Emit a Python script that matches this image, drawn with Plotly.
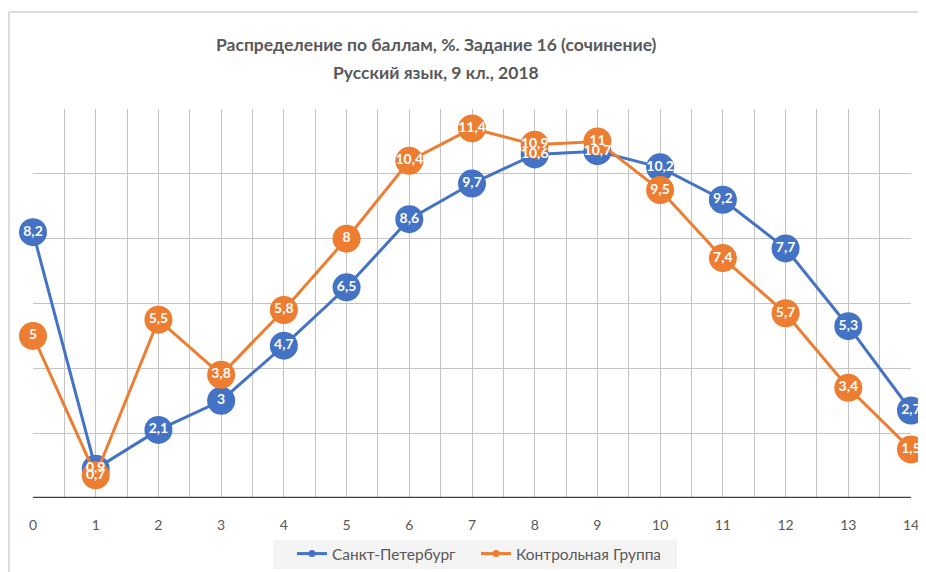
import plotly.graph_objects as go

scores = list(range(15))
spb = [8.2, 0.9, 2.1, 3, 4.7, 6.5, 8.6, 9.7, 10.6, 10.7, 10.2, 9.2, 7.7, 5.3, 2.7]
control = [5, 0.7, 5.5, 3.8, 5.8, 8, 10.4, 11.4, 10.9, 11, 9.5, 7.4, 5.7, 3.4, 1.5]
names = ["Санкт-Петербург", "Контрольная Группа"]
colors = ["#4472C4", "#ED7D31"]
title_lines = ["Распределение по баллам, %. Задание 16 (сочинение)", "Русский язык, 9 кл., 2018"]


def fmt(v):
    return f"{v:g}".replace(".", ",")


FONT = "Lato"
OFF = 8  # page offset of the figure (body margin)
W, H = 926 - OFF, 572 - OFF
# plot area in page pixels
PX0, PX1, PY0, PY1 = 33, 911, 109, 498
L, R, T, B = PX0 - OFF, W - (PX1 - OFF), PY0 - OFF, H - (PY1 - OFF)
pw, ph = W - L - R, H - T - B


def px(x):
    return (x - OFF - L) / pw


def py(y):
    return (H - B - (y - OFF)) / ph


fig = go.Figure()
for vals, name, col in zip([spb, control], names, colors):
    fig.add_trace(go.Scatter(
        x=scores, y=vals, name=name, mode="lines+markers", showlegend=False,
        line=dict(color=col, width=3),
        marker=dict(color=col, size=28, line=dict(width=0)),
        cliponaxis=False,
    ))
for vals, col in zip([spb, control], colors):
    fig.add_trace(go.Scatter(
        x=scores, y=vals, mode="text", showlegend=False,
        text=[fmt(v) for v in vals], textposition="middle center",
        textfont=dict(family=FONT, size=14, color="white", weight="bold"),
        cliponaxis=False, hoverinfo="skip",
    ))
# legend entries with small markers
for name, col in zip(names, colors):
    fig.add_trace(go.Scatter(
        x=[None], y=[None], name=name, mode="lines+markers",
        line=dict(color=col, width=3), marker=dict(color=col, size=7),
    ))

annotations = []
for line, ypix in zip(title_lines, [44, 72]):
    annotations.append(dict(
        text="<b>" + line + "</b>", xref="paper", yref="paper",
        x=px(436), y=py(ypix), xanchor="center", yanchor="middle", showarrow=False,
        font=dict(family=FONT, size=17.5, color="#595959"),
    ))

fig.update_layout(
    width=W, height=H,
    margin=dict(l=L, r=R, t=T, b=B, autoexpand=False),
    paper_bgcolor="white", plot_bgcolor="white",
    font=dict(family=FONT, color="#595959"),
    annotations=annotations,
    showlegend=True,
    legend=dict(
        orientation="h", x=px(292), xanchor="left", y=py(554), yanchor="middle",
        bgcolor="rgba(0,0,0,0)", font=dict(family=FONT, size=15.5, color="#595959"),
        entrywidth=139, entrywidthmode="pixels",
    ),
    xaxis=dict(
        range=[0, 14], tickmode="array", tickvals=scores,
        ticktext=[str(s) for s in scores],
        showgrid=True, gridcolor="#c4c4c4", gridwidth=1,
        minor=dict(dtick=0.5, tick0=0, showgrid=True, gridcolor="#c4c4c4", gridwidth=1),
        zeroline=False, showline=False, ticks="",
        tickfont=dict(family=FONT, size=14, color="#595959"),
        ticklabelstandoff=17,
    ),
    yaxis=dict(
        range=[0, 12], dtick=2, showgrid=True, gridcolor="#c4c4c4", gridwidth=1,
        showticklabels=False, zeroline=False, showline=False, ticks="",
    ),
    shapes=[
        dict(type="rect", xref="paper", yref="paper", x0=px(273), x1=px(677), y0=py(540), y1=py(569),
             fillcolor="#f4f4f4", line=dict(width=0), layer="below"),
        dict(type="line", xref="paper", yref="y", x0=0, x1=1, y0=0, y1=0,
             line=dict(color="#404040", width=2.5)),
        dict(type="line", xref="paper", yref="paper", x0=px(9), x1=px(940), y0=py(12), y1=py(12),
             line=dict(color="#d0d0d0", width=1.5)),
        dict(type="line", xref="paper", yref="paper", x0=px(9), x1=px(9), y0=py(12), y1=py(590),
             line=dict(color="#d0d0d0", width=1.5)),
    ],
)

fig.write_html("out.html")
